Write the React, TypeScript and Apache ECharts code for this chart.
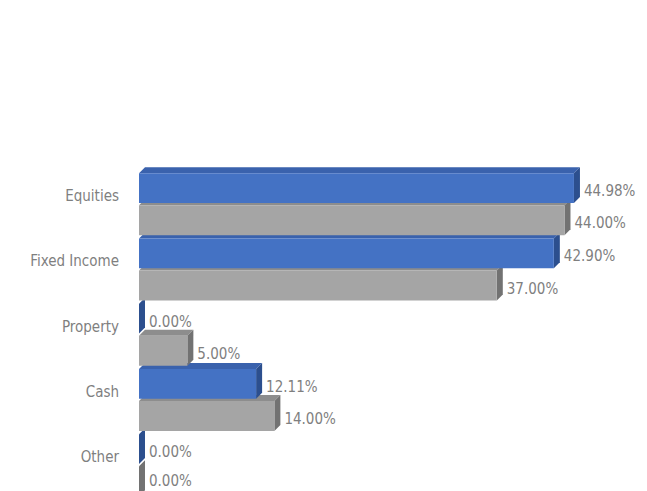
import React, { useEffect, useRef } from "react";
import * as echarts from "echarts";

const categories = ["Equities", "Fixed Income", "Property", "Cash", "Other"];
const portfolioValues = [44.98, 42.9, 0.0, 12.11, 0.0];
const benchmarkValues = [44.0, 37.0, 5.0, 14.0, 0.0];

const FONT = "'DejaVu Sans Condensed', 'Liberation Sans Narrow', 'Roboto', sans-serif";

type Palette = { front: string; top: string; side: string };

const BLUE: Palette = { front: "#4472C4", top: "#3a62ad", side: "#2c4f8e" };
const GRAY: Palette = { front: "#A5A5A5", top: "#8d8d8d", side: "#727272" };

function makeRender(pal: Palette, topRatio: number, bottomRatio: number) {
  return (params: any, api: any) => {
    const value = api.value(0);
    const idx = api.value(1);
    const start = api.coord([0, idx]);
    const end = api.coord([value, idx]);
    const band = api.size([0, 1])[1];
    const c = start[1];
    const top = c + topRatio * band;
    const bottom = c + bottomRatio * band;
    const x0 = start[0];
    const x1 = end[0];
    const d = 6;
    const label = value.toFixed(2) + "%";
    return {
      type: "group",
      children: [
        {
          type: "polygon",
          z2: 0,
          shape: {
            points: [
              [x0, top],
              [x0 + d, top - d],
              [x1 + d, top - d],
              [x1, top],
            ],
          },
          style: { fill: pal.top },
        },
        {
          type: "polygon",
          z2: 1,
          shape: {
            points: [
              [x1, top],
              [x1 + d, top - d],
              [x1 + d, bottom - d],
              [x1, bottom],
            ],
          },
          style: { fill: pal.side },
        },
        {
          type: "rect",
          z2: 10,
          shape: { x: x0, y: top, width: Math.max(0, x1 - x0), height: bottom - top },
          style: { fill: pal.front },
        },
        {
          type: "text",
          z2: 20,
          x: x1 + d + 4,
          y: Math.min((top + bottom) / 2 + 3, 481),
          style: {
            text: label,
            fill: "#7f7f7f",
            fontSize: 15,
            fontFamily: FONT,
            align: "left",
            verticalAlign: "middle",
          },
        },
      ],
    };
  };
}

export default function App() {
  const ref = useRef<HTMLDivElement>(null);
  useEffect(() => {
    document.body.style.margin = "0";
    if (!ref.current) return;
    const chart = echarts.init(ref.current, undefined, { renderer: "svg" });
    chart.setOption({
      animation: false,
      backgroundColor: "#ffffff",
      grid: {
        left: 139,
        right: 24.5,
        top: 163.5,
        height: 326.25,
        containLabel: false,
        outerBoundsMode: "none",
      },
      xAxis: {
        type: "value",
        min: 0,
        max: 50,
        show: false,
      },
      yAxis: {
        type: "category",
        data: categories,
        inverse: true,
        axisLine: { show: false },
        axisTick: { show: false },
        splitLine: { show: false },
        axisLabel: {
          margin: 20,
          color: "#7f7f7f",
          fontSize: 15,
          fontFamily: FONT,
        },
      },
      series: [
        {
          type: "custom",
          name: "Portfolio",
          clip: false,
          encode: { x: 0, y: 1 },
          data: portfolioValues.map((v, i) => [v, i]),
          renderItem: makeRender(BLUE, -0.35, 0.105),
        },
        {
          type: "custom",
          name: "Benchmark",
          clip: false,
          encode: { x: 0, y: 1 },
          data: benchmarkValues.map((v, i) => [v, i]),
          renderItem: makeRender(GRAY, 0.14, 0.6),
        },
      ],
    });
    return () => chart.dispose();
  }, []);
  return <div ref={ref} style={{ width: 647, height: 491 }} />;
}
